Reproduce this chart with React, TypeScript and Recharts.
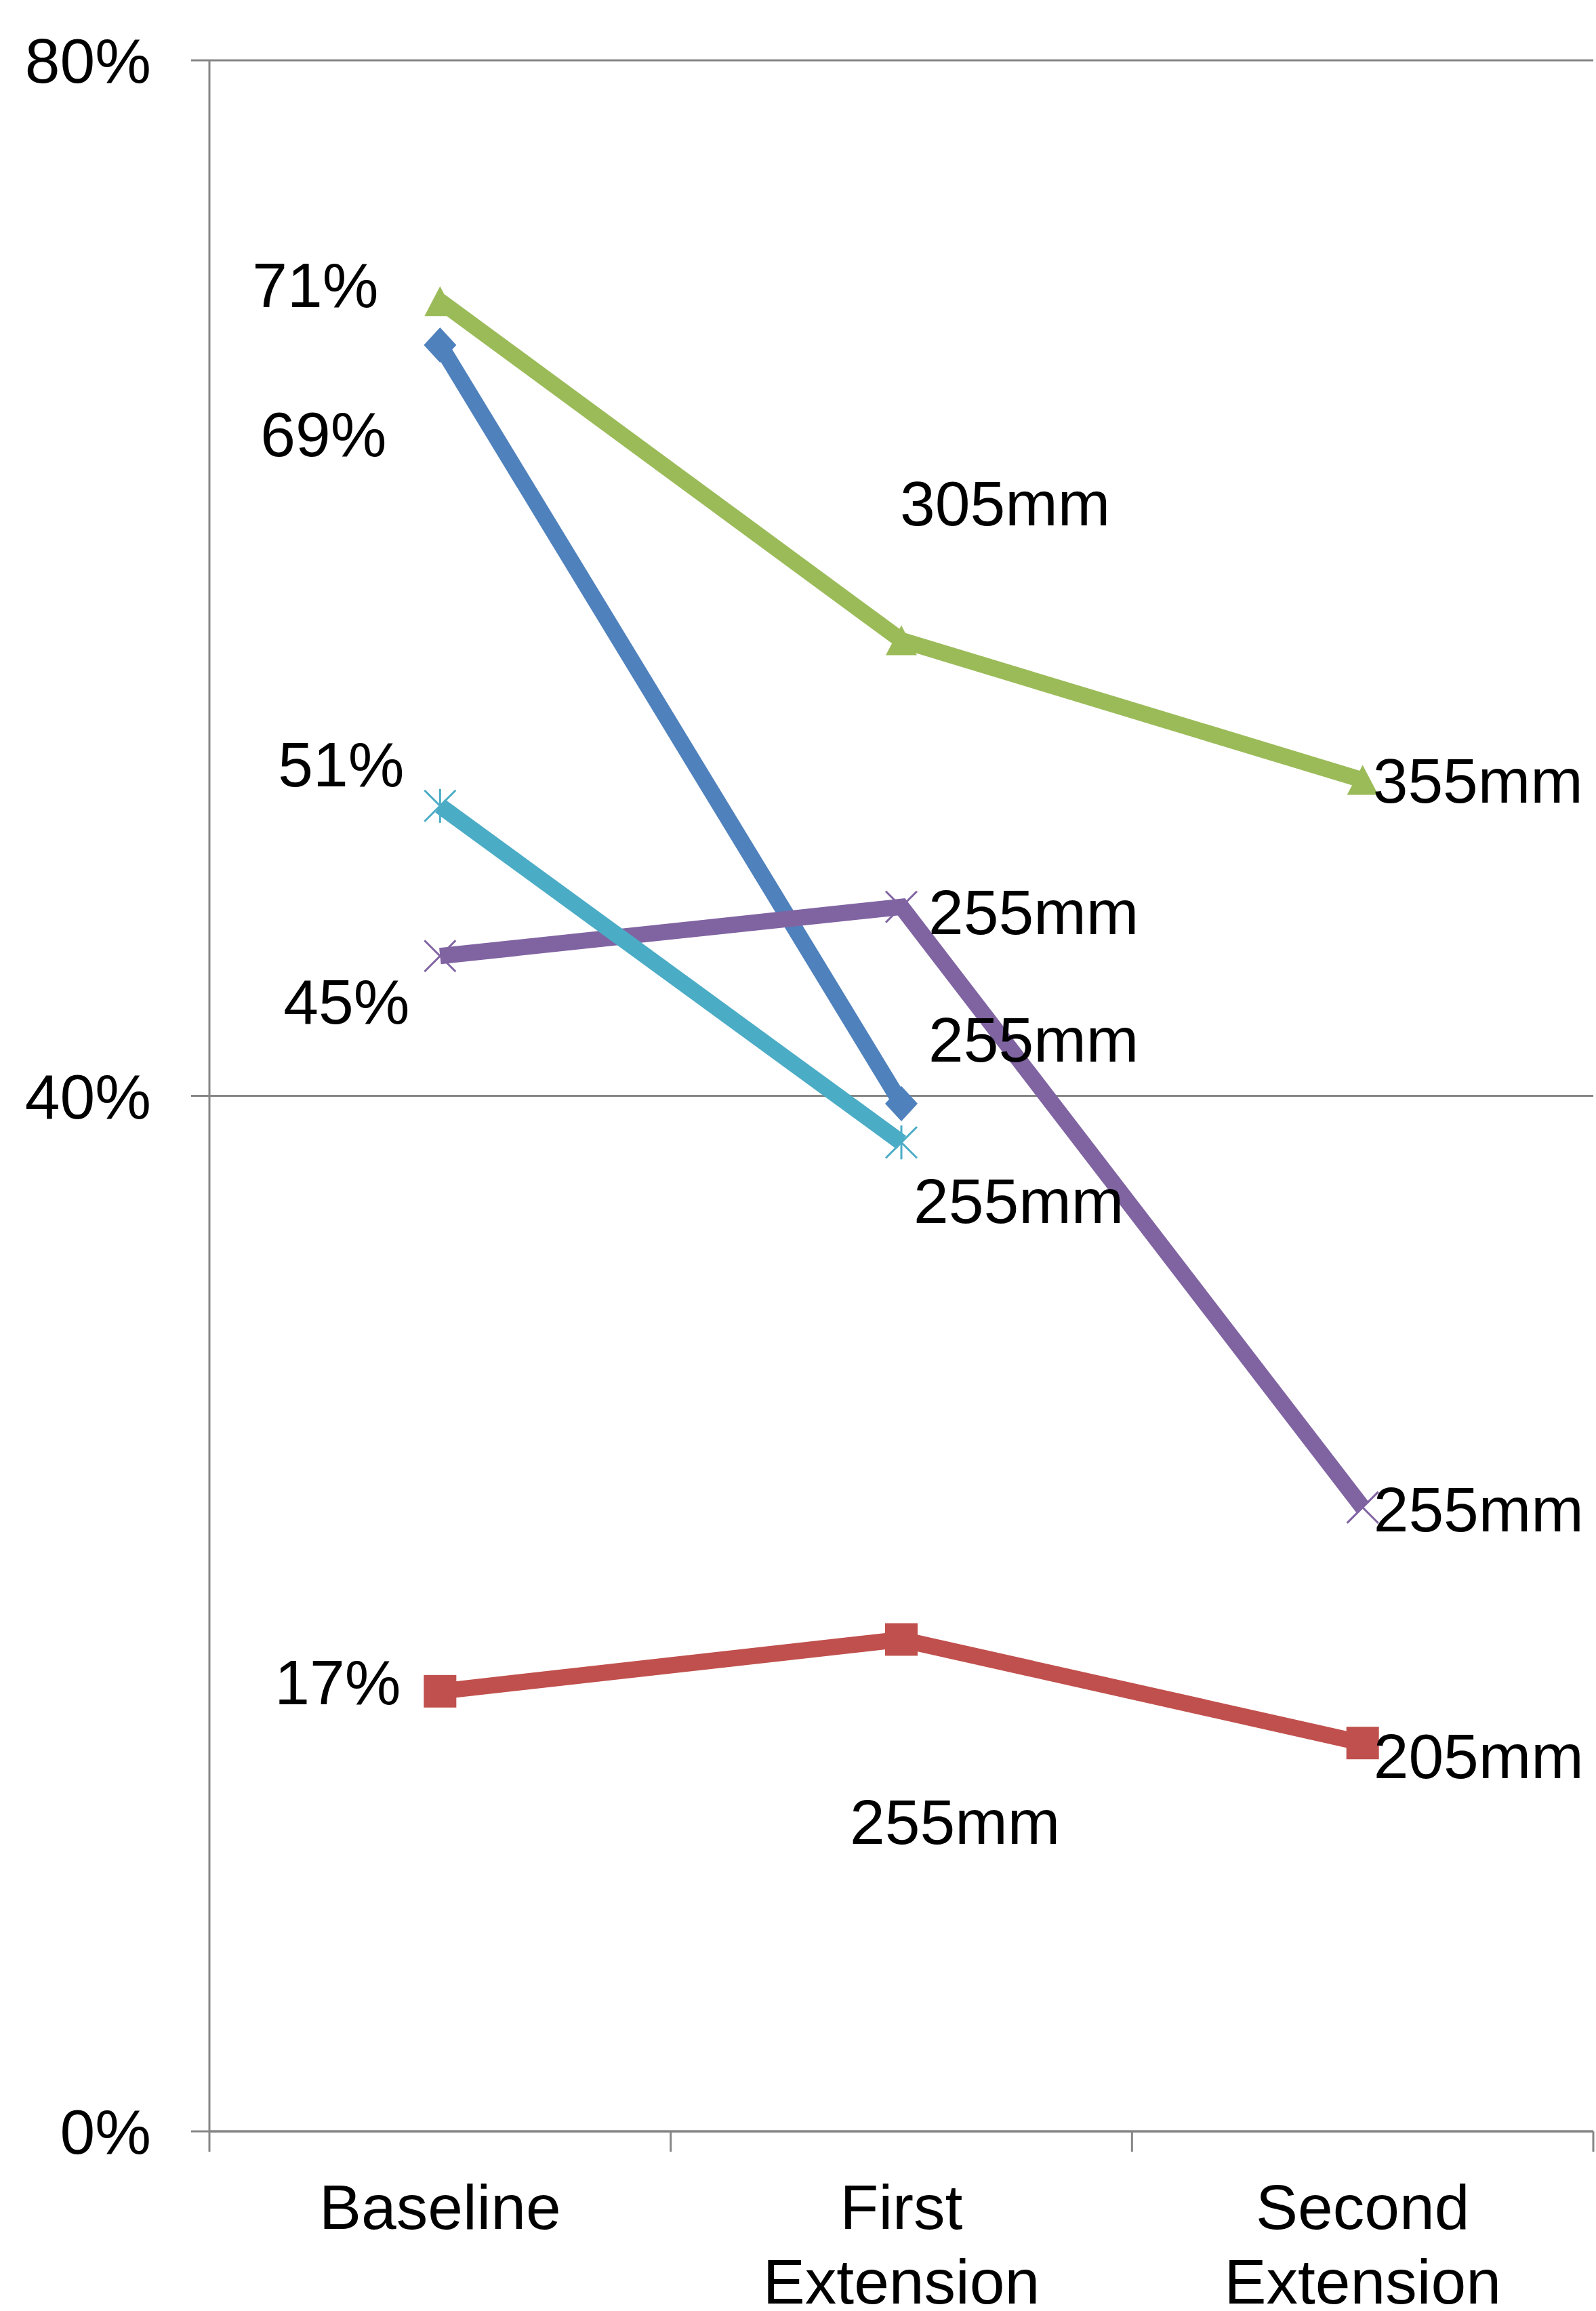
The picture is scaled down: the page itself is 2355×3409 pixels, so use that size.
import React from 'react';
import { LineChart, Line, XAxis, YAxis, CartesianGrid } from 'recharts';

// ---- data ----
const categories = ['Baseline', 'First Extension', 'Second Extension'];
const blueValues: (number | null)[] = [69.0, 39.7, null];
const redValues: (number | null)[] = [17.0, 19.0, 15.0];
const greenValues: (number | null)[] = [70.7, 57.6, 52.2];
const purpleValues: (number | null)[] = [45.4, 47.3, 24.1];
const cyanValues: (number | null)[] = [51.2, 38.2, null];

const blueLabels = ['69%', '255mm', ''];
const redLabels = ['17%', '255mm', '205mm'];
const greenLabels = ['71%', '305mm', '355mm'];
const purpleLabels = ['45%', '255mm', '255mm'];
const cyanLabels = ['51%', '255mm', ''];

const yTicks = [0, 40, 80];

// ---- style / layout ----
const W = 2355;
const H = 3409;
const M_TOP = 89;
const M_RIGHT = 4;
const Y_W = 309;
const X_H = 265;
const FONT = '"Liberation Sans", Arial, Helvetica, sans-serif';
const FS = 93;
const AXIS_COLOR = '#868686';
const LINE_W = 24;
const COLORS = {
  s1: '#4F81BD',
  s2: '#C0504D',
  s3: '#9BBB59',
  s4: '#8064A2',
  s5: '#4BACC6',
};

type Place = { dx: number; dy: number; anchor: 'start' | 'middle' | 'end' } | null;
const labelPlacement: Record<string, Place[]> = {
  s1: [{ dx: -79, dy: 164, anchor: 'end' }, { dx: 40, dy: -62, anchor: 'start' }, null],
  s2: [{ dx: -58, dy: 19, anchor: 'end' }, { dx: -76, dy: 302, anchor: 'start' }, { dx: 16, dy: 52, anchor: 'start' }],
  s3: [{ dx: -91, dy: 9, anchor: 'end' }, { dx: -2, dy: -169, anchor: 'start' }, { dx: 15, dy: 33, anchor: 'start' }],
  s4: [{ dx: -45, dy: 100, anchor: 'end' }, { dx: 40, dy: 40, anchor: 'start' }, { dx: 16, dy: 35, anchor: 'start' }],
  s5: [{ dx: -53, dy: -29, anchor: 'end' }, { dx: 18, dy: 119, anchor: 'start' }, null],
};

const labelsByKey: Record<string, string[]> = {
  s1: blueLabels,
  s2: redLabels,
  s3: greenLabels,
  s4: purpleLabels,
  s5: cyanLabels,
};

const data = categories.map((c, i) => ({
  category: c,
  s1: blueValues[i],
  s2: redValues[i],
  s3: greenValues[i],
  s4: purpleValues[i],
  s5: cyanValues[i],
}));

const plotW = W - Y_W - M_RIGHT;
const halfBand = plotW / categories.length / 2;

const XTick = (props: any) => {
  const { x, y, payload, index } = props;
  const words = String(payload.value).split(' ');
  const isLast = index === categories.length - 1;
  return (
    <g>
      <line x1={x - halfBand} x2={x - halfBand} y1={y} y2={y + 30} stroke={AXIS_COLOR} strokeWidth={3} />
      {isLast && (
        <line x1={x + halfBand} x2={x + halfBand} y1={y} y2={y + 30} stroke={AXIS_COLOR} strokeWidth={3} />
      )}
      <text x={x} y={y + 144} textAnchor="middle" fontFamily={FONT} fontSize={FS} fill="#000">
        {words.map((w, i) => (
          <tspan key={i} x={x} dy={i === 0 ? 0 : 110}>
            {w}
          </tspan>
        ))}
      </text>
    </g>
  );
};

const makeDot = (key: string) => (props: any) => {
  const { cx, cy, index } = props;
  const k = `${key}-dot-${index}`;
  if (cx == null || cy == null || props.value == null) return <g key={k} />;
  const c = (COLORS as any)[key];
  if (key === 's1') {
    return (
      <polygon key={k} points={`${cx},${cy - 26} ${cx + 24},${cy} ${cx},${cy + 26} ${cx - 24},${cy}`} fill={c} />
    );
  }
  if (key === 's2') {
    return <rect key={k} x={cx - 24} y={cy - 24} width={48} height={48} fill={c} />;
  }
  if (key === 's3') {
    return (
      <polygon key={k} points={`${cx},${cy - 22} ${cx + 23},${cy + 22} ${cx - 23},${cy + 22}`} fill={c} />
    );
  }
  if (key === 's4') {
    return (
      <g key={k} stroke={c} strokeWidth={3}>
        <line x1={cx - 23} y1={cy - 23} x2={cx + 23} y2={cy + 23} />
        <line x1={cx - 23} y1={cy + 23} x2={cx + 23} y2={cy - 23} />
      </g>
    );
  }
  return (
    <g key={k} stroke={c} strokeWidth={3}>
      <line x1={cx - 23} y1={cy - 23} x2={cx + 23} y2={cy + 23} />
      <line x1={cx - 23} y1={cy + 23} x2={cx + 23} y2={cy - 23} />
      <line x1={cx} y1={cy - 25} x2={cx} y2={cy + 25} />
    </g>
  );
};

const makeLabel = (key: string) => (props: any) => {
  const { x, y, index, value } = props;
  const k = `${key}-lbl-${index}`;
  const place = labelPlacement[key][index];
  const text = labelsByKey[key][index];
  if (x == null || y == null || value == null || !place || !text) return <g key={k} />;
  return (
    <text
      key={k}
      x={x + place.dx}
      y={y + place.dy}
      textAnchor={place.anchor}
      fontFamily={FONT}
      fontSize={FS}
      fill="#000"
    >
      {text}
    </text>
  );
};

const seriesKeys = ['s1', 's2', 's3', 's4', 's5'];
const seriesNames = ['Series 1', 'Series 2', 'Series 3', 'Series 4', 'Series 5'];

export default function App() {
  return (
    <div style={{ position: 'absolute', left: 0, top: 0, width: W, height: H, background: '#fff' }}>
      <LineChart
        width={W}
        height={H}
        data={data}
        margin={{ top: M_TOP, right: M_RIGHT, left: 0, bottom: 0 }}
      >
        <CartesianGrid horizontal vertical={false} stroke={AXIS_COLOR} strokeWidth={3} />
        <XAxis
          dataKey="category"
          height={X_H}
          stroke={AXIS_COLOR}
          strokeWidth={3}
          tickLine={false}
          tickSize={0}
          tickMargin={0}
          interval={0}
          padding={{ left: halfBand, right: halfBand }}
          tick={<XTick />}
        />
        <YAxis
          width={Y_W}
          domain={[0, 80]}
          ticks={yTicks}
          tickFormatter={(v: number) => `${v}%`}
          stroke={AXIS_COLOR}
          strokeWidth={3}
          tickSize={27}
          tickMargin={59}
          tick={{ fontFamily: FONT, fontSize: FS, fill: '#000' }}
          tickLine={{ stroke: AXIS_COLOR, strokeWidth: 3 }}
        />
        {seriesKeys.map((key, i) => (
          <Line
            key={key}
            name={seriesNames[i]}
            type="linear"
            dataKey={key}
            stroke={(COLORS as any)[key]}
            strokeWidth={LINE_W}
            dot={makeDot(key)}
            activeDot={false}
            label={makeLabel(key)}
            connectNulls={false}
            isAnimationActive={false}
          />
        ))}
      </LineChart>
    </div>
  );
}
